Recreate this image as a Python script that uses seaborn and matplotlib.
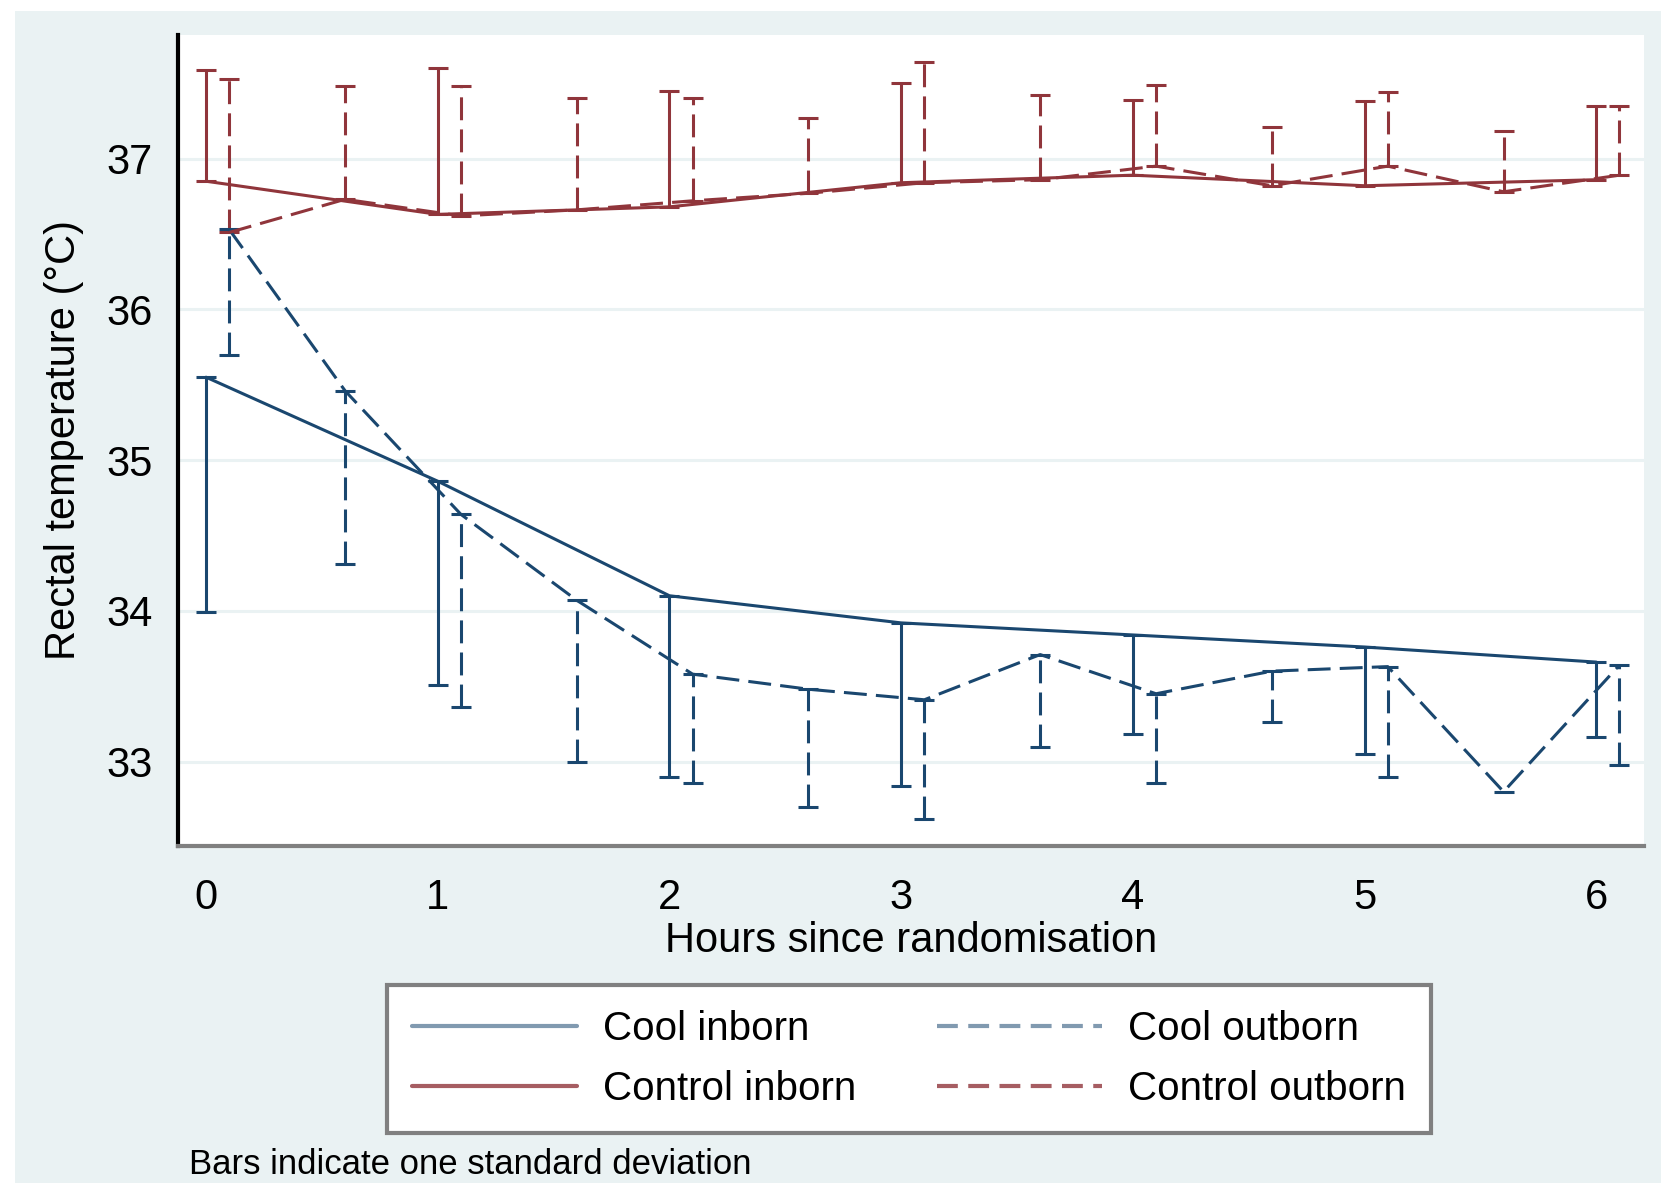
import matplotlib
matplotlib.use("Agg")
import matplotlib.pyplot as plt
import numpy as np
import pandas as pd
import seaborn as sns
from matplotlib.lines import Line2D
from matplotlib.patches import Rectangle

# Time points (hours since randomisation)
hours_inborn = [0, 1, 2, 3, 4, 5, 6]
hours_outborn = [0.1, 0.6, 1.1, 1.6, 2.1, 2.6, 3.1, 3.6, 4.1, 4.6, 5.1, 5.6, 6.1]

# Mean rectal temperature and one SD
cool_inborn_mean = [35.55, 34.86, 34.10, 33.92, 33.84, 33.76, 33.66]
cool_inborn_sd = [1.56, 1.35, 1.20, 1.08, 0.66, 0.71, 0.50]

cool_outborn_mean = [36.53, 35.46, 34.64, 34.07, 33.58, 33.48, 33.41,
                     33.71, 33.45, 33.60, 33.63, 32.80, 33.64]
cool_outborn_sd = [0.83, 1.15, 1.28, 1.07, 0.72, 0.78, 0.79,
                   0.61, 0.59, 0.34, 0.73, np.nan, 0.66]

control_inborn_mean = [36.85, 36.63, 36.68, 36.84, 36.89, 36.82, 36.86]
control_inborn_sd = [0.74, 0.97, 0.77, 0.66, 0.50, 0.56, 0.49]

control_outborn_mean = [36.51, 36.73, 36.62, 36.66, 36.72, 36.77, 36.84,
                        36.86, 36.95, 36.82, 36.95, 36.78, 36.89]
control_outborn_sd = [1.02, 0.75, 0.86, 0.74, 0.68, 0.50, 0.80,
                      0.56, 0.54, 0.39, 0.49, 0.40, 0.46]

x_ticks = [0, 1, 2, 3, 4, 5, 6]
y_ticks = [33, 34, 35, 36, 37]

NAVY = "#1A476F"
MAROON = "#90353B"
BG = "#EAF2F3"
DASH = (7.5, 3)

# Build long-form table
frames = []
for arm, origin, hrs, mean, sd in [
    ("Cool", "inborn", hours_inborn, cool_inborn_mean, cool_inborn_sd),
    ("Cool", "outborn", hours_outborn, cool_outborn_mean, cool_outborn_sd),
    ("Control", "inborn", hours_inborn, control_inborn_mean, control_inborn_sd),
    ("Control", "outborn", hours_outborn, control_outborn_mean, control_outborn_sd),
]:
    frames.append(pd.DataFrame({"hours": hrs, "temp": mean, "sd": sd,
                                "arm": arm, "origin": origin}))
df = pd.concat(frames, ignore_index=True)

sns.set_style("white")
plt.rcParams["font.family"] = ["Liberation Sans", "DejaVu Sans"]
plt.rcParams["text.color"] = "black"
plt.rcParams["axes.labelcolor"] = "black"
plt.rcParams["xtick.labelcolor"] = "black"
plt.rcParams["ytick.labelcolor"] = "black"

fig = plt.figure(figsize=(16.61, 11.83), dpi=100, facecolor=BG)
# white strips at left and top edge
fig.add_artist(Rectangle((0, 0), 15 / 1661, 1, transform=fig.transFigure,
                         facecolor="white", edgecolor="none", zorder=-1))
fig.add_artist(Rectangle((0, 1 - 11 / 1183), 1, 11 / 1183, transform=fig.transFigure,
                         facecolor="white", edgecolor="none", zorder=-1))

ax = fig.add_axes([178 / 1661, 1 - 846 / 1183, (1644 - 178) / 1661, (846 - 35) / 1183])
ax.set_facecolor("white")

# gridlines at major y ticks
for yv in y_ticks:
    ax.axhline(yv, color=BG, lw=2.2, zorder=0)

sns.lineplot(data=df, x="hours", y="temp", hue="arm", style="origin",
             palette={"Cool": NAVY, "Control": MAROON},
             dashes={"inborn": "", "outborn": DASH},
             lw=2.2, legend=False, errorbar=None, ax=ax, zorder=3)

# one-sided SD bars: cool downwards, control upwards
for (arm, origin), g in df.groupby(["arm", "origin"]):
    color = NAVY if arm == "Cool" else MAROON
    zeros = np.zeros(len(g))
    yerr = [g["sd"].values, zeros] if arm == "Cool" else [zeros, g["sd"].values]
    eb = ax.errorbar(g["hours"], g["temp"], yerr=yerr, fmt="none", ecolor=color,
                     elinewidth=2.2, capsize=7.2, capthick=2.2, zorder=2)
    if origin == "outborn":
        eb[2][0].set_linestyle((0, DASH))

ax.set_xlim(-0.121, 6.206)
ax.set_ylim(32.44, 37.82)
ax.set_xticks(x_ticks)
ax.set_xticks(np.arange(0.5, 6.5, 1), minor=True)
ax.set_yticks(y_ticks)
ax.set_yticks(np.arange(32.5, 38, 1), minor=True)
ax.tick_params(axis="both", which="major", length=12, width=2, color="#666666",
               labelsize=30, direction="out")
ax.tick_params(axis="both", which="minor", length=6, width=2, color="#666666",
               direction="out")
ax.tick_params(axis="x", which="major", pad=11)
ax.tick_params(axis="y", which="major", pad=6)

for side in ["top", "right"]:
    ax.spines[side].set_visible(False)
ax.spines["left"].set_color("black")
ax.spines["left"].set_linewidth(3)
ax.spines["bottom"].set_color("#808080")
ax.spines["bottom"].set_linewidth(3)

ax.set_xlabel("Hours since randomisation", fontsize=30)
ax.set_ylabel("Rectal temperature (°C)", fontsize=30)
ax.xaxis.label.set_va("center")
ax.yaxis.label.set_va("center")
ax.xaxis.set_label_coords(0.5, -0.117)
ax.yaxis.set_label_coords(-0.078, 0.5)

handles = [
    Line2D([], [], color=NAVY, lw=3, alpha=0.55),
    Line2D([], [], color=MAROON, lw=3, alpha=0.8),
    Line2D([], [], color=NAVY, lw=3, alpha=0.55, dashes=(5, 2.5)),
    Line2D([], [], color=MAROON, lw=3, alpha=0.8, dashes=(5, 2.5)),
]
labels = ["Cool inborn", "Control inborn", "Cool outborn", "Control outborn"]
leg = fig.legend(handles, labels, ncol=2, loc="upper left",
                 bbox_to_anchor=(387 / 1661, 1 - 985 / 1183), fontsize=29,
                 frameon=True, fancybox=False, edgecolor="#808080", framealpha=1,
                 handlelength=4.1, handletextpad=0.65, columnspacing=2.0,
                 labelspacing=0.55, borderpad=0.62, borderaxespad=0)
leg.get_frame().set_linewidth(3)
leg.get_frame().set_facecolor("white")

fig.text(189 / 1661, 1 - 1165 / 1183, "Bars indicate one standard deviation",
         fontsize=25, va="center", ha="left")

fig.savefig("out.png", dpi=100, facecolor=fig.get_facecolor())
